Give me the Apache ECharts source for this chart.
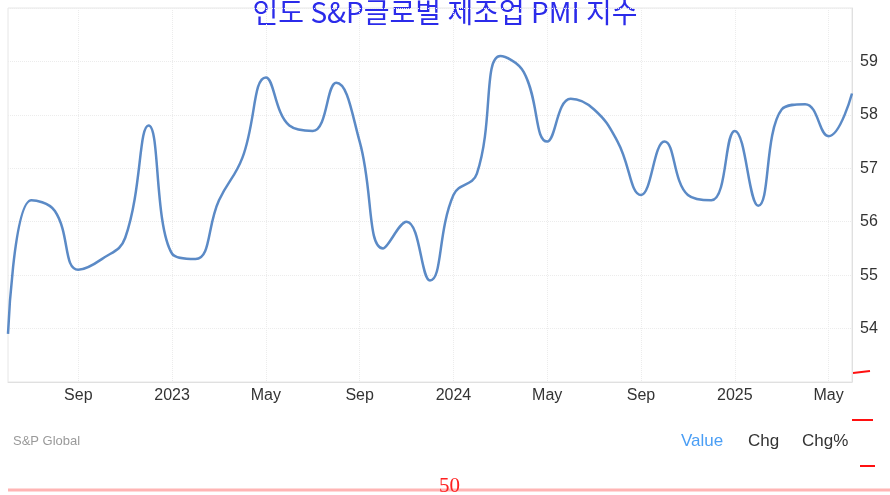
<!DOCTYPE html>
<html>
<head>
<meta charset="utf-8">
<script src="https://cdn.jsdelivr.net/npm/echarts@6/dist/echarts.min.js"></script>
<style>
html,body{margin:0;padding:0;background:#fff;}
#c{width:890px;height:495px;}
</style>
</head>
<body>
<div id="c"></div>
<script>
const titleText = '인도 S&P글로벌 제조업 PMI 지수';
const months = ['2022-06','2022-07','2022-08','2022-09','2022-10','2022-11','2022-12',
  '2023-01','2023-02','2023-03','2023-04','2023-05','2023-06','2023-07','2023-08','2023-09','2023-10','2023-11','2023-12',
  '2024-01','2024-02','2024-03','2024-04','2024-05','2024-06','2024-07','2024-08','2024-09','2024-10','2024-11','2024-12',
  '2025-01','2025-02','2025-03','2025-04','2025-05','2025-06'];
const pmiValues = [53.9,56.4,56.2,55.1,55.3,55.7,57.8,
  55.4,55.3,56.4,57.2,58.7,57.8,57.7,58.6,57.5,55.5,56.0,54.9,
  56.5,56.9,59.1,58.8,57.5,58.3,58.1,57.5,56.5,57.5,56.5,56.4,
  57.7,56.3,58.1,58.2,57.6,58.4];
const monthNames = ['Jan','Feb','Mar','Apr','May','Jun','Jul','Aug','Sep','Oct','Nov','Dec'];
const yMin = 53, yMax = 60, yStep = 1;
const legendItems = ['Value','Chg','Chg%'];
const sourceText = 'S&P Global';
const refText = '50';

function tickLabel(m){
  const [y, mo] = m.split('-').map(Number);
  return mo === 1 ? String(y) : monthNames[mo-1];
}
const showTick = (idx) => idx % 4 === 3;

const chart = echarts.init(document.getElementById('c'), null, {renderer:'canvas'});
chart.setOption({
  backgroundColor:'#ffffff',
  animation:false,
  grid:{left:8,right:38,top:8,bottom:113,show:true,borderColor:'#e6e6e6',borderWidth:1},
  xAxis:{
    type:'category',
    data:months,
    boundaryGap:false,
    axisLine:{show:true,lineStyle:{color:'#e0e0e0'}},
    axisTick:{show:false},
    axisLabel:{interval:(i)=>showTick(i),formatter:(v)=>tickLabel(v),color:'#333',fontSize:16,
      fontFamily:'Liberation Sans, Arial, sans-serif',margin:6},
    splitLine:{show:true,interval:(i)=>showTick(i),lineStyle:{color:'#ececec',type:'dotted',width:1}}
  },
  yAxis:{
    type:'value',
    position:'right',
    min:yMin,max:yMax,interval:yStep,
    axisLine:{show:true,lineStyle:{color:'#e0e0e0'}},
    axisTick:{show:false},
    axisLabel:{color:'#333',fontSize:16,fontFamily:'Liberation Sans, Arial, sans-serif',margin:8,
      padding:[0,0,8,0],
      formatter:(v)=> (v===yMin||v===yMax)?'':String(v)},
    splitLine:{show:true,lineStyle:{color:'#ececec',type:'dotted',width:1}}
  },
  series:[{
    type:'line',
    data:pmiValues,
    smooth:0.45,
    showSymbol:false,
    lineStyle:{color:'#5b8ac6',width:2.5}
  }],
  graphic:[
    {type:'text',left:'center',top:-2,style:{text:titleText,fill:'#2b2bea',
      font:'28px "Noto Sans CJK KR", sans-serif'}},
    {type:'text',left:13,top:435,style:{text:sourceText,fill:'#9a9a9a',font:'13px "Liberation Sans", Arial, sans-serif'}},
    {type:'text',left:681,top:433,style:{text:legendItems[0],fill:'#4a9ef5',font:'17px "Liberation Sans", Arial, sans-serif'}},
    {type:'text',left:748,top:433,style:{text:legendItems[1],fill:'#333',font:'17px "Liberation Sans", Arial, sans-serif'}},
    {type:'text',left:802,top:433,style:{text:legendItems[2],fill:'#333',font:'17px "Liberation Sans", Arial, sans-serif'}},
    {type:'line',shape:{x1:853,y1:373,x2:870,y2:371},style:{stroke:'#ff1010',lineWidth:2}},
    {type:'line',shape:{x1:852,y1:420,x2:873,y2:420},style:{stroke:'#ff1010',lineWidth:2}},
    {type:'line',shape:{x1:860,y1:466,x2:875,y2:466},style:{stroke:'#ff1010',lineWidth:2}},
    {type:'line',shape:{x1:8,y1:490,x2:890,y2:490},style:{stroke:'#ffb4b4',lineWidth:3}},
    {type:'text',left:439,top:476,style:{text:refText,fill:'#ff2020',font:'21px "Liberation Serif", serif'}}
  ]
});
</script>
</body>
</html>
